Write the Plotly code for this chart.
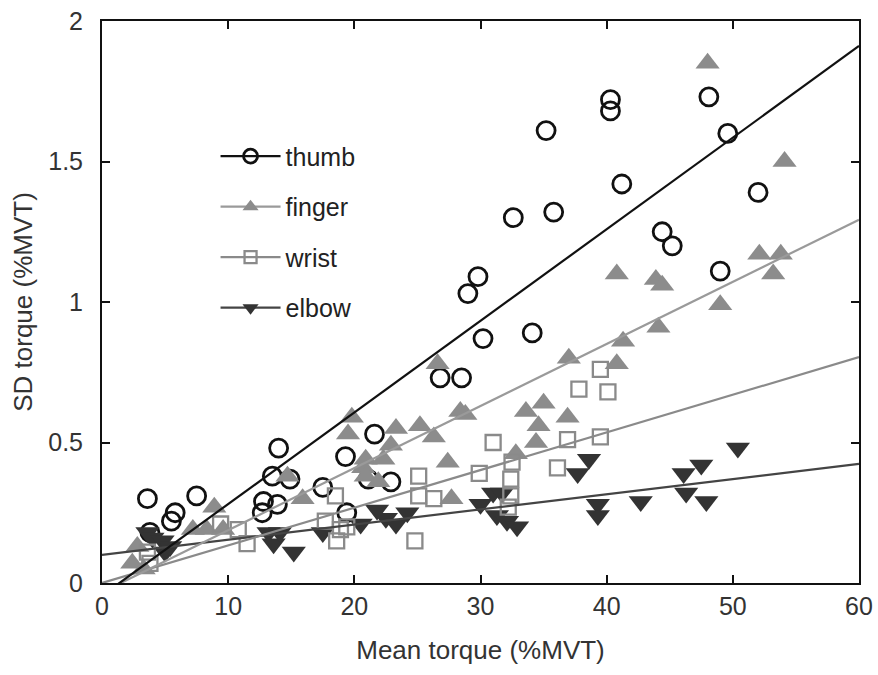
import plotly.graph_objects as go

# ---- data ----
thumb_x = [3.6, 3.8, 5.5, 5.8, 7.5, 12.7, 12.8, 13.5, 13.9, 14.0, 14.9, 17.5, 19.3, 19.4, 21.1, 21.6, 22.9,
           26.8, 28.5, 29.0, 29.8, 30.2, 32.6, 34.1, 35.2, 35.8, 40.3, 40.3, 41.2, 44.4, 45.2, 48.1, 49.0, 49.6, 52.0]
thumb_y = [0.30, 0.18, 0.22, 0.25, 0.31, 0.25, 0.29, 0.38, 0.28, 0.48, 0.37, 0.34, 0.45, 0.25, 0.37, 0.53, 0.36,
           0.73, 0.73, 1.03, 1.09, 0.87, 1.30, 0.89, 1.61, 1.32, 1.72, 1.68, 1.42, 1.25, 1.20, 1.73, 1.11, 1.60, 1.39]

finger_x = [2.4, 2.8, 3.3, 7.2, 8.3, 8.9, 9.6, 14.7, 15.9, 19.5, 19.8, 20.7, 20.9, 20.9, 21.9, 22.3, 22.9, 23.3,
            25.2, 26.3, 26.6, 27.4, 27.7, 28.4, 28.8, 32.8, 33.6, 34.4, 34.6, 35.0, 36.9, 37.0, 40.8, 40.8, 41.3,
            43.9, 44.1, 44.4, 48.0, 49.0, 52.1, 53.2, 53.8, 54.1]
finger_y = [0.07, 0.13, 0.05, 0.19, 0.19, 0.27, 0.19, 0.38, 0.30, 0.53, 0.59, 0.41, 0.44, 0.38, 0.36, 0.44, 0.49, 0.55,
            0.56, 0.52, 0.78, 0.43, 0.30, 0.61, 0.60, 0.46, 0.61, 0.50, 0.56, 0.64, 0.59, 0.80, 0.78, 1.10, 0.86,
            1.08, 0.91, 1.06, 1.85, 0.99, 1.17, 1.10, 1.17, 1.50]

wrist_x = [3.6, 3.8, 9.4, 10.8, 11.5, 17.7, 18.5, 18.6, 18.9, 19.4, 25.1, 25.1, 24.8, 26.3, 29.9, 31.0, 32.2,
           32.4, 32.4, 32.5, 36.1, 36.9, 37.8, 39.5, 39.5, 40.1]
wrist_y = [0.11, 0.07, 0.21, 0.19, 0.14, 0.22, 0.31, 0.15, 0.19, 0.20, 0.38, 0.31, 0.15, 0.30, 0.39, 0.50, 0.27,
           0.31, 0.37, 0.43, 0.41, 0.51, 0.69, 0.76, 0.52, 0.68]

elbow_x = [3.6, 4.0, 4.8, 5.0, 5.4, 13.2, 13.6, 14.1, 15.2, 17.5, 20.5, 21.8, 22.5, 23.3, 24.2, 30.0, 31.0,
           31.7, 31.3, 32.1, 32.9, 37.7, 38.6, 39.3, 39.3, 42.7, 46.1, 46.3, 47.5, 47.9, 50.4]
elbow_y = [0.18, 0.16, 0.15, 0.11, 0.13, 0.18, 0.14, 0.18, 0.11, 0.18, 0.21, 0.26, 0.23, 0.21, 0.25, 0.28, 0.32,
           0.32, 0.24, 0.22, 0.20, 0.39, 0.44, 0.28, 0.24, 0.29, 0.39, 0.32, 0.42, 0.29, 0.48]

# regression lines: (slope, intercept)
fits = {
    "thumb": (0.0326, -0.045),
    "finger": (0.0221, -0.033),
    "wrist": (0.0134, 0.0),
    "elbow": (0.0054, 0.10),
}
line_x = [0, 60]

x_ticks = [0, 10, 20, 30, 40, 50, 60]
y_ticks = [0, 0.5, 1, 1.5, 2]
y_tick_text = ["0", "0.5", "1", "1.5", "2"]

# ---- styles ----
styles = {
    "thumb": dict(symbol="circle-open", color="#111111", size=18, lw=2.8, line="#111111"),
    "finger": dict(symbol="triangle-up", color="#8c8c8c", size=21, lw=0, line="#9a9a9a"),
    "wrist": dict(symbol="square-open", color="#8a8a8a", size=15, lw=2.3, line="#8a8a8a"),
    "elbow": dict(symbol="triangle-down", color="#333333", size=21, lw=0, line="#444444"),
}
series = {
    "thumb": (thumb_x, thumb_y),
    "finger": (finger_x, finger_y),
    "wrist": (wrist_x, wrist_y),
    "elbow": (elbow_x, elbow_y),
}

FONT = "Liberation Sans, Arial, sans-serif"

fig = go.Figure()

for name in ["thumb", "elbow", "finger", "wrist"]:
    xs, ys = series[name]
    s = styles[name]
    fig.add_trace(go.Scatter(
        x=xs, y=ys, mode="markers", showlegend=False,
        marker=dict(symbol=s["symbol"], size=s["size"], color=s["color"],
                    line=dict(width=s["lw"], color=s["color"])),
    ))

for name in ["elbow", "wrist", "finger", "thumb"]:
    m, b = fits[name]
    s = styles[name]
    fig.add_trace(go.Scatter(
        x=line_x, y=[b + m * xv for xv in line_x], mode="lines", showlegend=False,
        line=dict(color=s["line"], width=2.2), cliponaxis=True,
    ))

# legend-only traces
for name in ["thumb", "finger", "wrist", "elbow"]:
    s = styles[name]
    fig.add_trace(go.Scatter(
        x=[None], y=[None], mode="lines+markers", name=name, legendgroup=name,
        line=dict(color=s["line"], width=2.2),
        marker=dict(symbol=s["symbol"], size=14 if name != "wrist" else 12, color=s["color"],
                    line=dict(width=s["lw"], color=s["color"])),
    ))

axis_common = dict(
    showline=True, linecolor="#111111", linewidth=2, mirror="ticks",
    ticks="inside", ticklen=8, tickwidth=1.5, tickcolor="#111111",
    showgrid=False, zeroline=False, automargin=False,
    tickfont=dict(family=FONT, size=25, color="#333333"),
)

fig.update_layout(
    width=878, height=675,
    margin=dict(l=102, r=19, t=21, b=92),
    paper_bgcolor="white", plot_bgcolor="white",
    font=dict(family=FONT, color="#333333"),
    xaxis=dict(range=[0, 60], tickvals=x_ticks,
               title=dict(text="Mean torque (%MVT)", font=dict(size=26, color="#333333"), standoff=22),
               **axis_common),
    yaxis=dict(range=[0, 2], tickvals=y_ticks, ticktext=y_tick_text, ticklabelstandoff=12,
               title=dict(text="SD torque (%MVT)", font=dict(size=26, color="#333333"), standoff=8),
               **axis_common),
    legend=dict(x=0.15, y=0.80, xanchor="left", yanchor="top",
                bgcolor="rgba(0,0,0,0)", font=dict(family=FONT, size=25, color="#222222"),
                traceorder="grouped", tracegroupgap=15, itemwidth=60),
)

fig.write_html("out.html")
